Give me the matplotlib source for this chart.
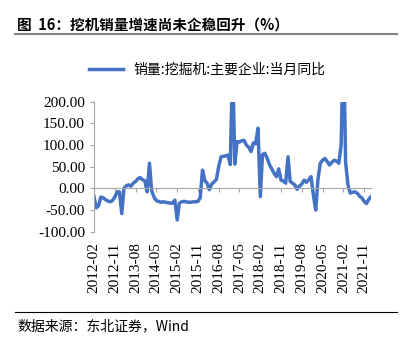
# %%
import numpy as np
import pandas as pd
import matplotlib
matplotlib.use('Agg')
import matplotlib.pyplot as plt
from matplotlib.lines import Line2D
from matplotlib.ticker import FormatStrFormatter

# %%
months = pd.date_range('2012-02-01', periods=121, freq='MS')
yoy = [
    -19, -45, -40, -20, -22, -26, -29, -31, -28, -20, -8, -8,      # 2012-02 .. 2013-01
    -58, 0, 6, 8, 5, 12, 16, 22, 25, 20, 18, -8,                   # 2013-02 .. 2014-01
    58, -5, -20, -28, -30, -32, -31, -32, -33, -34, -34, -27,      # 2014-02 .. 2015-01
    -73, -34, -31, -30, -31, -32, -32, -31, -31, -30, -22, 42,     # 2015-02 .. 2016-01
    18, 12, -3, 10, 15, 20, 50, 73, 74, 75, 77, 55,                # 2016-02 .. 2017-01
    300, 56, 108, 107, 110, 111, 100, 95, 85, 105, 103, 139,       # 2017-02 .. 2018-01
    -19, 78, 81, 70, 55, 45, 35, 27, 45, 19, 17, 12,               # 2018-02 .. 2019-01
    73, 16, 12, 8, -2, 5, 10, 19, 14, 20, 27, -15,                 # 2019-02 .. 2020-01
    -50, 20, 58, 65, 69, 62, 54, 60, 65, 63, 58, 100,              # 2020-02 .. 2021-01
    350, 60, 8, -11, -9, -8, -11, -18, -22, -30, -35, -25,         # 2021-02 .. 2022-01
    -19,                                                           # 2022-02
]
series_name = '销量:挖掘机:主要企业:当月同比'
title = '图  16：挖机销量增速尚未企稳回升（%）'
source = '数据来源：东北证券，Wind'

# %%
cjk = ['Noto Sans CJK SC', 'DejaVu Sans']
serif = ['Liberation Serif', 'Noto Sans CJK SC']
grey = '#A6A6A6'

fig = plt.figure(figsize=(4.07, 3.42), dpi=100)
ax = fig.add_axes([0.231, 0.3225, 0.681, 0.380])
ax.plot(months, yoy, color='#4472C4', lw=2.5, label=series_name,
        solid_joinstyle='round')

ax.set_ylim(-100, 200)
ax.set_xlim(months[0], months[-1])
ax.set_yticks(np.arange(-100, 201, 50))
ax.yaxis.set_major_formatter(FormatStrFormatter('%.2f'))
ax.set_xticks(months[::9])
ax.set_xticklabels([m.strftime('%Y-%m') for m in months[::9]])

for s in ['top', 'right']:
    ax.spines[s].set_visible(False)
ax.spines['left'].set_color(grey)
ax.spines['bottom'].set_color(grey)
ax.spines['bottom'].set_position(('data', 0))

ax.tick_params(axis='x', direction='out', length=3, color=grey, pad=36,
               labelrotation=90, labelsize=11)
ax.tick_params(axis='y', direction='out', length=3, color=grey, labelsize=11)
for lab in ax.get_xticklabels() + ax.get_yticklabels():
    lab.set_family(serif)

# legend above the plot
fig.legend(loc='center', bbox_to_anchor=(0.51, 0.795), frameon=False,
           handlelength=2.4, prop={'family': cjk, 'size': 10})

# title and footer
fig.text(0.042, 0.927, title, fontsize=10.5, fontweight='bold', family=cjk,
         va='center', ha='left')
fig.add_artist(Line2D([15 / 407, 397 / 407], [1 - 34 / 342] * 2,
                      color='#808080', lw=1.5))
fig.add_artist(Line2D([15 / 407, 397 / 407], [1 - 311.7 / 342] * 2,
                      color='black', lw=0.8))
fig.text(0.042, 0.045, source, fontsize=10, family=cjk, va='center', ha='left')

fig.savefig('out.png', dpi=100)
